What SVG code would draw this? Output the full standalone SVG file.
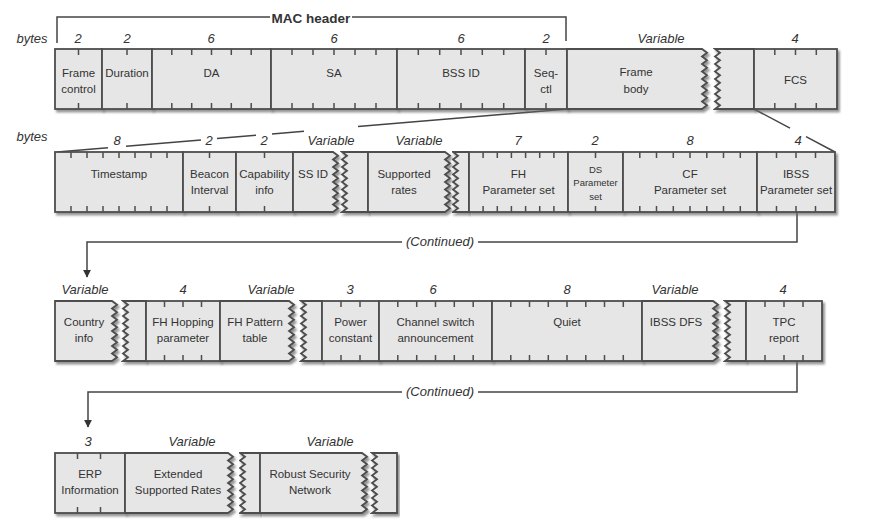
<svg xmlns="http://www.w3.org/2000/svg" width="871" height="522" viewBox="0 0 871 522">
<defs>
<filter id="sh" x="-5%" y="-10%" width="115%" height="130%">
<feDropShadow dx="2" dy="2.5" stdDeviation="1" flood-color="#666" flood-opacity="0.7"/>
</filter>
<marker id="arr" viewBox="0 0 10 10" refX="9" refY="5" markerWidth="8" markerHeight="8" orient="auto" markerUnits="userSpaceOnUse">
<path d="M0,0 L10,5 L0,10 Z" fill="#333"/>
</marker>
<style>
.box{fill:#e6e6e6;stroke:#4d4d4d;stroke-width:1.8;filter:url(#sh)}
.tk{stroke:#4d4d4d;stroke-width:1.5;fill:none}
.l{font-family:"Liberation Sans",Arial,sans-serif;font-size:11.5px;fill:#333;text-anchor:middle}
.s{font-family:"Liberation Sans",Arial,sans-serif;font-size:9.5px;fill:#333;text-anchor:middle}
.n{font-family:"Liberation Sans",Arial,sans-serif;font-size:13px;font-style:italic;fill:#333;text-anchor:middle}
.c{stroke:#444;stroke-width:1.5;fill:none}
.h{font-family:"Liberation Sans",Arial,sans-serif;font-size:13.5px;font-weight:bold;fill:#333;text-anchor:middle}
</style>
</defs>
<rect width="871" height="522" fill="#fff"/>

<g id="connectors">
<path class="c" d="M57,43 V17 H270 M352,17 H566 V41"/>
<text class="h" x="311" y="23">MAC header</text>
<path class="c" d="M57,152 L108,147.7 M126,146.2 L201,139.9 M217,138.5 L256,135.2 M272,133.9 L304,131.2 M358,126.6 L567,109"/>
<path class="c" d="M754,109 L790,128.1 M806,136.6 L835,152"/>
<path class="c" d="M797,212 V242 H478 M402,242 H87 V277" marker-end="url(#arr)"/>
<text class="n" x="440" y="246">(Continued)</text>
<path class="c" d="M797,362 V392 H478 M402,392 H88 V427" marker-end="url(#arr)"/>
<text class="n" x="440" y="396">(Continued)</text>
</g>

<text class="n" x="32" y="43">bytes</text>
<text class="n" x="32" y="141">bytes</text>

<!-- Row 1 -->
<g id="frame-control">
<rect class="box" x="55" y="49" width="47" height="60"/>
<path class="tk" d="M78.5,49v6M78.5,109v-6"/>
<text class="n" x="78" y="43">2</text>
<text class="l" x="78.5" y="77">Frame</text><text class="l" x="78.5" y="93">control</text>
</g>
<g id="duration">
<rect class="box" x="102" y="49" width="50" height="60"/>
<path class="tk" d="M127,49v6M127,109v-6"/>
<text class="n" x="127" y="43">2</text>
<text class="l" x="127" y="77">Duration</text>
</g>
<g id="da">
<rect class="box" x="152" y="49" width="119" height="60"/>
<path class="tk" d="M171.8,49v6M191.7,49v6M211.5,49v6M231.3,49v6M251.2,49v6M171.8,109v-6M191.7,109v-6M211.5,109v-6M231.3,109v-6M251.2,109v-6"/>
<text class="n" x="211" y="43">6</text>
<text class="l" x="211.5" y="77">DA</text>
</g>
<g id="sa">
<rect class="box" x="271" y="49" width="126" height="60"/>
<path class="tk" d="M292,49v6M313,49v6M334,49v6M355,49v6M376,49v6M292,109v-6M313,109v-6M334,109v-6M355,109v-6M376,109v-6"/>
<text class="n" x="334" y="43">6</text>
<text class="l" x="334" y="77">SA</text>
</g>
<g id="bss-id">
<rect class="box" x="397" y="49" width="128" height="60"/>
<path class="tk" d="M418.3,49v6M439.7,49v6M461,49v6M482.3,49v6M503.7,49v6M418.3,109v-6M439.7,109v-6M461,109v-6M482.3,109v-6M503.7,109v-6"/>
<text class="n" x="461" y="43">6</text>
<text class="l" x="461" y="77">BSS ID</text>
</g>
<g id="seq-ctl">
<rect class="box" x="525" y="49" width="42" height="60"/>
<path class="tk" d="M546,49v6M546,109v-6"/>
<text class="n" x="546" y="43">2</text>
<text class="l" x="546" y="77">Seq-</text><text class="l" x="546" y="93">ctl</text>
</g>
<g id="frame-body">
<path class="box" d="M567,49 H702 l5 3.75l-5 3.75l5 3.75l-5 3.75l5 3.75l-5 3.75l5 3.75l-5 3.75l5 3.75l-5 3.75l5 3.75l-5 3.75l5 3.75l-5 3.75l5 3.75l-5 3.75 H567 Z"/>
<path class="box" d="M715,49 H754 V109 H715 l5 -3.75l-5 -3.75l5 -3.75l-5 -3.75l5 -3.75l-5 -3.75l5 -3.75l-5 -3.75l5 -3.75l-5 -3.75l5 -3.75l-5 -3.75l5 -3.75l-5 -3.75l5 -3.75l-5 -3.75 Z"/>
<text class="n" x="661" y="43">Variable</text>
<text class="l" x="636" y="76">Frame</text><text class="l" x="636" y="93">body</text>
</g>
<g id="fcs">
<rect class="box" x="754" y="49" width="83" height="60"/>
<path class="tk" d="M774.8,49v6M795.5,49v6M816.3,49v6M774.8,109v-6M795.5,109v-6M816.3,109v-6"/>
<text class="n" x="795" y="43">4</text>
<text class="l" x="795.5" y="84">FCS</text>
</g>

<!-- Row 2 -->
<g id="timestamp">
<rect class="box" x="55" y="152" width="128" height="60"/>
<path class="tk" d="M71,152v6M87,152v6M103,152v6M119,152v6M135,152v6M151,152v6M167,152v6M71,212v-6M87,212v-6M103,212v-6M119,212v-6M135,212v-6M151,212v-6M167,212v-6"/>
<text class="n" x="117" y="145">8</text>
<text class="l" x="119" y="178">Timestamp</text>
</g>
<g id="beacon-interval">
<rect class="box" x="183" y="152" width="53" height="60"/>
<path class="tk" d="M209.5,152v6M209.5,212v-6"/>
<text class="n" x="209" y="145">2</text>
<text class="l" x="209.5" y="178">Beacon</text><text class="l" x="209.5" y="194">Interval</text>
</g>
<g id="capability-info">
<rect class="box" x="236" y="152" width="57" height="60"/>
<path class="tk" d="M264.5,152v6M264.5,212v-6"/>
<text class="n" x="264" y="145">2</text>
<text class="l" x="264.5" y="178">Capability</text><text class="l" x="264.5" y="194">info</text>
</g>
<g id="ss-id">
<path class="box" d="M293,152 H333 l5 3.75l-5 3.75l5 3.75l-5 3.75l5 3.75l-5 3.75l5 3.75l-5 3.75l5 3.75l-5 3.75l5 3.75l-5 3.75l5 3.75l-5 3.75l5 3.75l-5 3.75 H293 Z"/>
<path class="box" d="M342,152 H368 V212 H342 l5 -3.75l-5 -3.75l5 -3.75l-5 -3.75l5 -3.75l-5 -3.75l5 -3.75l-5 -3.75l5 -3.75l-5 -3.75l5 -3.75l-5 -3.75l5 -3.75l-5 -3.75l5 -3.75l-5 -3.75 Z"/>
<text class="n" x="331" y="145">Variable</text>
<text class="l" x="313" y="178">SS ID</text>
</g>
<g id="supported-rates">
<path class="box" d="M368,152 H445 l5 3.75l-5 3.75l5 3.75l-5 3.75l5 3.75l-5 3.75l5 3.75l-5 3.75l5 3.75l-5 3.75l5 3.75l-5 3.75l5 3.75l-5 3.75l5 3.75l-5 3.75 H368 Z"/>
<path class="box" d="M453,152 H469 V212 H453 l5 -3.75l-5 -3.75l5 -3.75l-5 -3.75l5 -3.75l-5 -3.75l5 -3.75l-5 -3.75l5 -3.75l-5 -3.75l5 -3.75l-5 -3.75l5 -3.75l-5 -3.75l5 -3.75l-5 -3.75 Z"/>
<text class="n" x="419" y="145">Variable</text>
<text class="l" x="404" y="178">Supported</text><text class="l" x="404" y="194">rates</text>
</g>
<g id="fh-parameter-set">
<rect class="box" x="469" y="152" width="99" height="60"/>
<path class="tk" d="M483.1,152v6M497.3,152v6M511.4,152v6M525.6,152v6M539.7,152v6M553.9,152v6M483.1,212v-6M497.3,212v-6M511.4,212v-6M525.6,212v-6M539.7,212v-6M553.9,212v-6"/>
<text class="n" x="518" y="145">7</text>
<text class="l" x="518.5" y="178">FH</text><text class="l" x="518.5" y="194">Parameter set</text>
</g>
<g id="ds-parameter-set">
<rect class="box" x="568" y="152" width="55" height="60"/>
<path class="tk" d="M595.5,152v6M595.5,212v-6"/>
<text class="n" x="595" y="145">2</text>
<text class="s" x="595.5" y="173">DS</text><text class="s" x="595.5" y="186">Parameter</text><text class="s" x="595.5" y="200">set</text>
</g>
<g id="cf-parameter-set">
<rect class="box" x="623" y="152" width="134" height="60"/>
<path class="tk" d="M639.8,152v6M656.5,152v6M673.3,152v6M690,152v6M706.8,152v6M723.5,152v6M740.3,152v6M639.8,212v-6M656.5,212v-6M673.3,212v-6M690,212v-6M706.8,212v-6M723.5,212v-6M740.3,212v-6"/>
<text class="n" x="690" y="145">8</text>
<text class="l" x="690" y="178">CF</text><text class="l" x="690" y="194">Parameter set</text>
</g>
<g id="ibss-parameter-set">
<rect class="box" x="757" y="152" width="78" height="60"/>
<path class="tk" d="M776.5,152v6M796,152v6M815.5,152v6M776.5,212v-6M796,212v-6M815.5,212v-6"/>
<text class="n" x="798" y="145">4</text>
<text class="l" x="796" y="178">IBSS</text><text class="l" x="796" y="194">Parameter set</text>
</g>

<!-- Row 3 -->
<g id="country-info">
<path class="box" d="M55,301 H112 l5 3.75l-5 3.75l5 3.75l-5 3.75l5 3.75l-5 3.75l5 3.75l-5 3.75l5 3.75l-5 3.75l5 3.75l-5 3.75l5 3.75l-5 3.75l5 3.75l-5 3.75 H55 Z"/>
<path class="box" d="M123,301 H146 V361 H123 l5 -3.75l-5 -3.75l5 -3.75l-5 -3.75l5 -3.75l-5 -3.75l5 -3.75l-5 -3.75l5 -3.75l-5 -3.75l5 -3.75l-5 -3.75l5 -3.75l-5 -3.75l5 -3.75l-5 -3.75 Z"/>
<text class="n" x="85" y="294">Variable</text>
<text class="l" x="84" y="326">Country</text><text class="l" x="84" y="342">info</text>
</g>
<g id="fh-hopping-parameter">
<rect class="box" x="146" y="301" width="74" height="60"/>
<path class="tk" d="M164.5,301v6M183,301v6M201.5,301v6M164.5,361v-6M183,361v-6M201.5,361v-6"/>
<text class="n" x="183" y="294">4</text>
<text class="l" x="183" y="326">FH Hopping</text><text class="l" x="183" y="342">parameter</text>
</g>
<g id="fh-pattern-table">
<path class="box" d="M220,301 H289 l5 3.75l-5 3.75l5 3.75l-5 3.75l5 3.75l-5 3.75l5 3.75l-5 3.75l5 3.75l-5 3.75l5 3.75l-5 3.75l5 3.75l-5 3.75l5 3.75l-5 3.75 H220 Z"/>
<path class="box" d="M301,301 H322 V361 H301 l5 -3.75l-5 -3.75l5 -3.75l-5 -3.75l5 -3.75l-5 -3.75l5 -3.75l-5 -3.75l5 -3.75l-5 -3.75l5 -3.75l-5 -3.75l5 -3.75l-5 -3.75l5 -3.75l-5 -3.75 Z"/>
<text class="n" x="271" y="294">Variable</text>
<text class="l" x="255" y="326">FH Pattern</text><text class="l" x="255" y="342">table</text>
</g>
<g id="power-constant">
<rect class="box" x="322" y="301" width="57" height="60"/>
<path class="tk" d="M341,301v6M360,301v6M341,361v-6M360,361v-6"/>
<text class="n" x="350" y="294">3</text>
<text class="l" x="350.5" y="326">Power</text><text class="l" x="350.5" y="342">constant</text>
</g>
<g id="channel-switch-announcement">
<rect class="box" x="379" y="301" width="113" height="60"/>
<path class="tk" d="M397.8,301v6M416.7,301v6M435.5,301v6M454.3,301v6M473.2,301v6M397.8,361v-6M416.7,361v-6M435.5,361v-6M454.3,361v-6M473.2,361v-6"/>
<text class="n" x="433" y="294">6</text>
<text class="l" x="435.5" y="326">Channel switch</text><text class="l" x="435.5" y="342">announcement</text>
</g>
<g id="quiet">
<rect class="box" x="492" y="301" width="150" height="60"/>
<path class="tk" d="M510.8,301v6M529.5,301v6M548.3,301v6M567,301v6M585.8,301v6M604.5,301v6M623.3,301v6M510.8,361v-6M529.5,361v-6M548.3,361v-6M567,361v-6M585.8,361v-6M604.5,361v-6M623.3,361v-6"/>
<text class="n" x="567" y="294">8</text>
<text class="l" x="567" y="326">Quiet</text>
</g>
<g id="ibss-dfs">
<path class="box" d="M642,301 H713 l5 3.75l-5 3.75l5 3.75l-5 3.75l5 3.75l-5 3.75l5 3.75l-5 3.75l5 3.75l-5 3.75l5 3.75l-5 3.75l5 3.75l-5 3.75l5 3.75l-5 3.75 H642 Z"/>
<path class="box" d="M725,301 H746 V361 H725 l5 -3.75l-5 -3.75l5 -3.75l-5 -3.75l5 -3.75l-5 -3.75l5 -3.75l-5 -3.75l5 -3.75l-5 -3.75l5 -3.75l-5 -3.75l5 -3.75l-5 -3.75l5 -3.75l-5 -3.75 Z"/>
<text class="n" x="675" y="294">Variable</text>
<text class="l" x="676" y="326">IBSS DFS</text>
</g>
<g id="tpc-report">
<rect class="box" x="746" y="301" width="76" height="60"/>
<path class="tk" d="M765,301v6M784,301v6M803,301v6M765,361v-6M784,361v-6M803,361v-6"/>
<text class="n" x="783" y="294">4</text>
<text class="l" x="784" y="326">TPC</text><text class="l" x="784" y="342">report</text>
</g>

<!-- Row 4 -->
<g id="erp-information">
<rect class="box" x="55" y="453" width="70" height="60"/>
<path class="tk" d="M77.5,453v6M100.5,453v6M77.5,513v-6M100.5,513v-6"/>
<text class="n" x="88" y="446">3</text>
<text class="l" x="90" y="478">ERP</text><text class="l" x="90" y="494">Information</text>
</g>
<g id="extended-supported-rates">
<path class="box" d="M125,453 H228 l5 3.75l-5 3.75l5 3.75l-5 3.75l5 3.75l-5 3.75l5 3.75l-5 3.75l5 3.75l-5 3.75l5 3.75l-5 3.75l5 3.75l-5 3.75l5 3.75l-5 3.75 H125 Z"/>
<path class="box" d="M240,453 H260 V513 H240 l5 -3.75l-5 -3.75l5 -3.75l-5 -3.75l5 -3.75l-5 -3.75l5 -3.75l-5 -3.75l5 -3.75l-5 -3.75l5 -3.75l-5 -3.75l5 -3.75l-5 -3.75l5 -3.75l-5 -3.75 Z"/>
<text class="n" x="192" y="446">Variable</text>
<text class="l" x="178" y="478">Extended</text><text class="l" x="178" y="494">Supported Rates</text>
</g>
<g id="robust-security-network">
<path class="box" d="M260,453 H362 l5 3.75l-5 3.75l5 3.75l-5 3.75l5 3.75l-5 3.75l5 3.75l-5 3.75l5 3.75l-5 3.75l5 3.75l-5 3.75l5 3.75l-5 3.75l5 3.75l-5 3.75 H260 Z"/>
<path class="box" d="M372,453 H397 V513 H372 l5 -3.75l-5 -3.75l5 -3.75l-5 -3.75l5 -3.75l-5 -3.75l5 -3.75l-5 -3.75l5 -3.75l-5 -3.75l5 -3.75l-5 -3.75l5 -3.75l-5 -3.75l5 -3.75l-5 -3.75 Z"/>
<text class="n" x="330" y="446">Variable</text>
<text class="l" x="310" y="478">Robust Security</text><text class="l" x="310" y="494">Network</text>
</g>
</svg>
